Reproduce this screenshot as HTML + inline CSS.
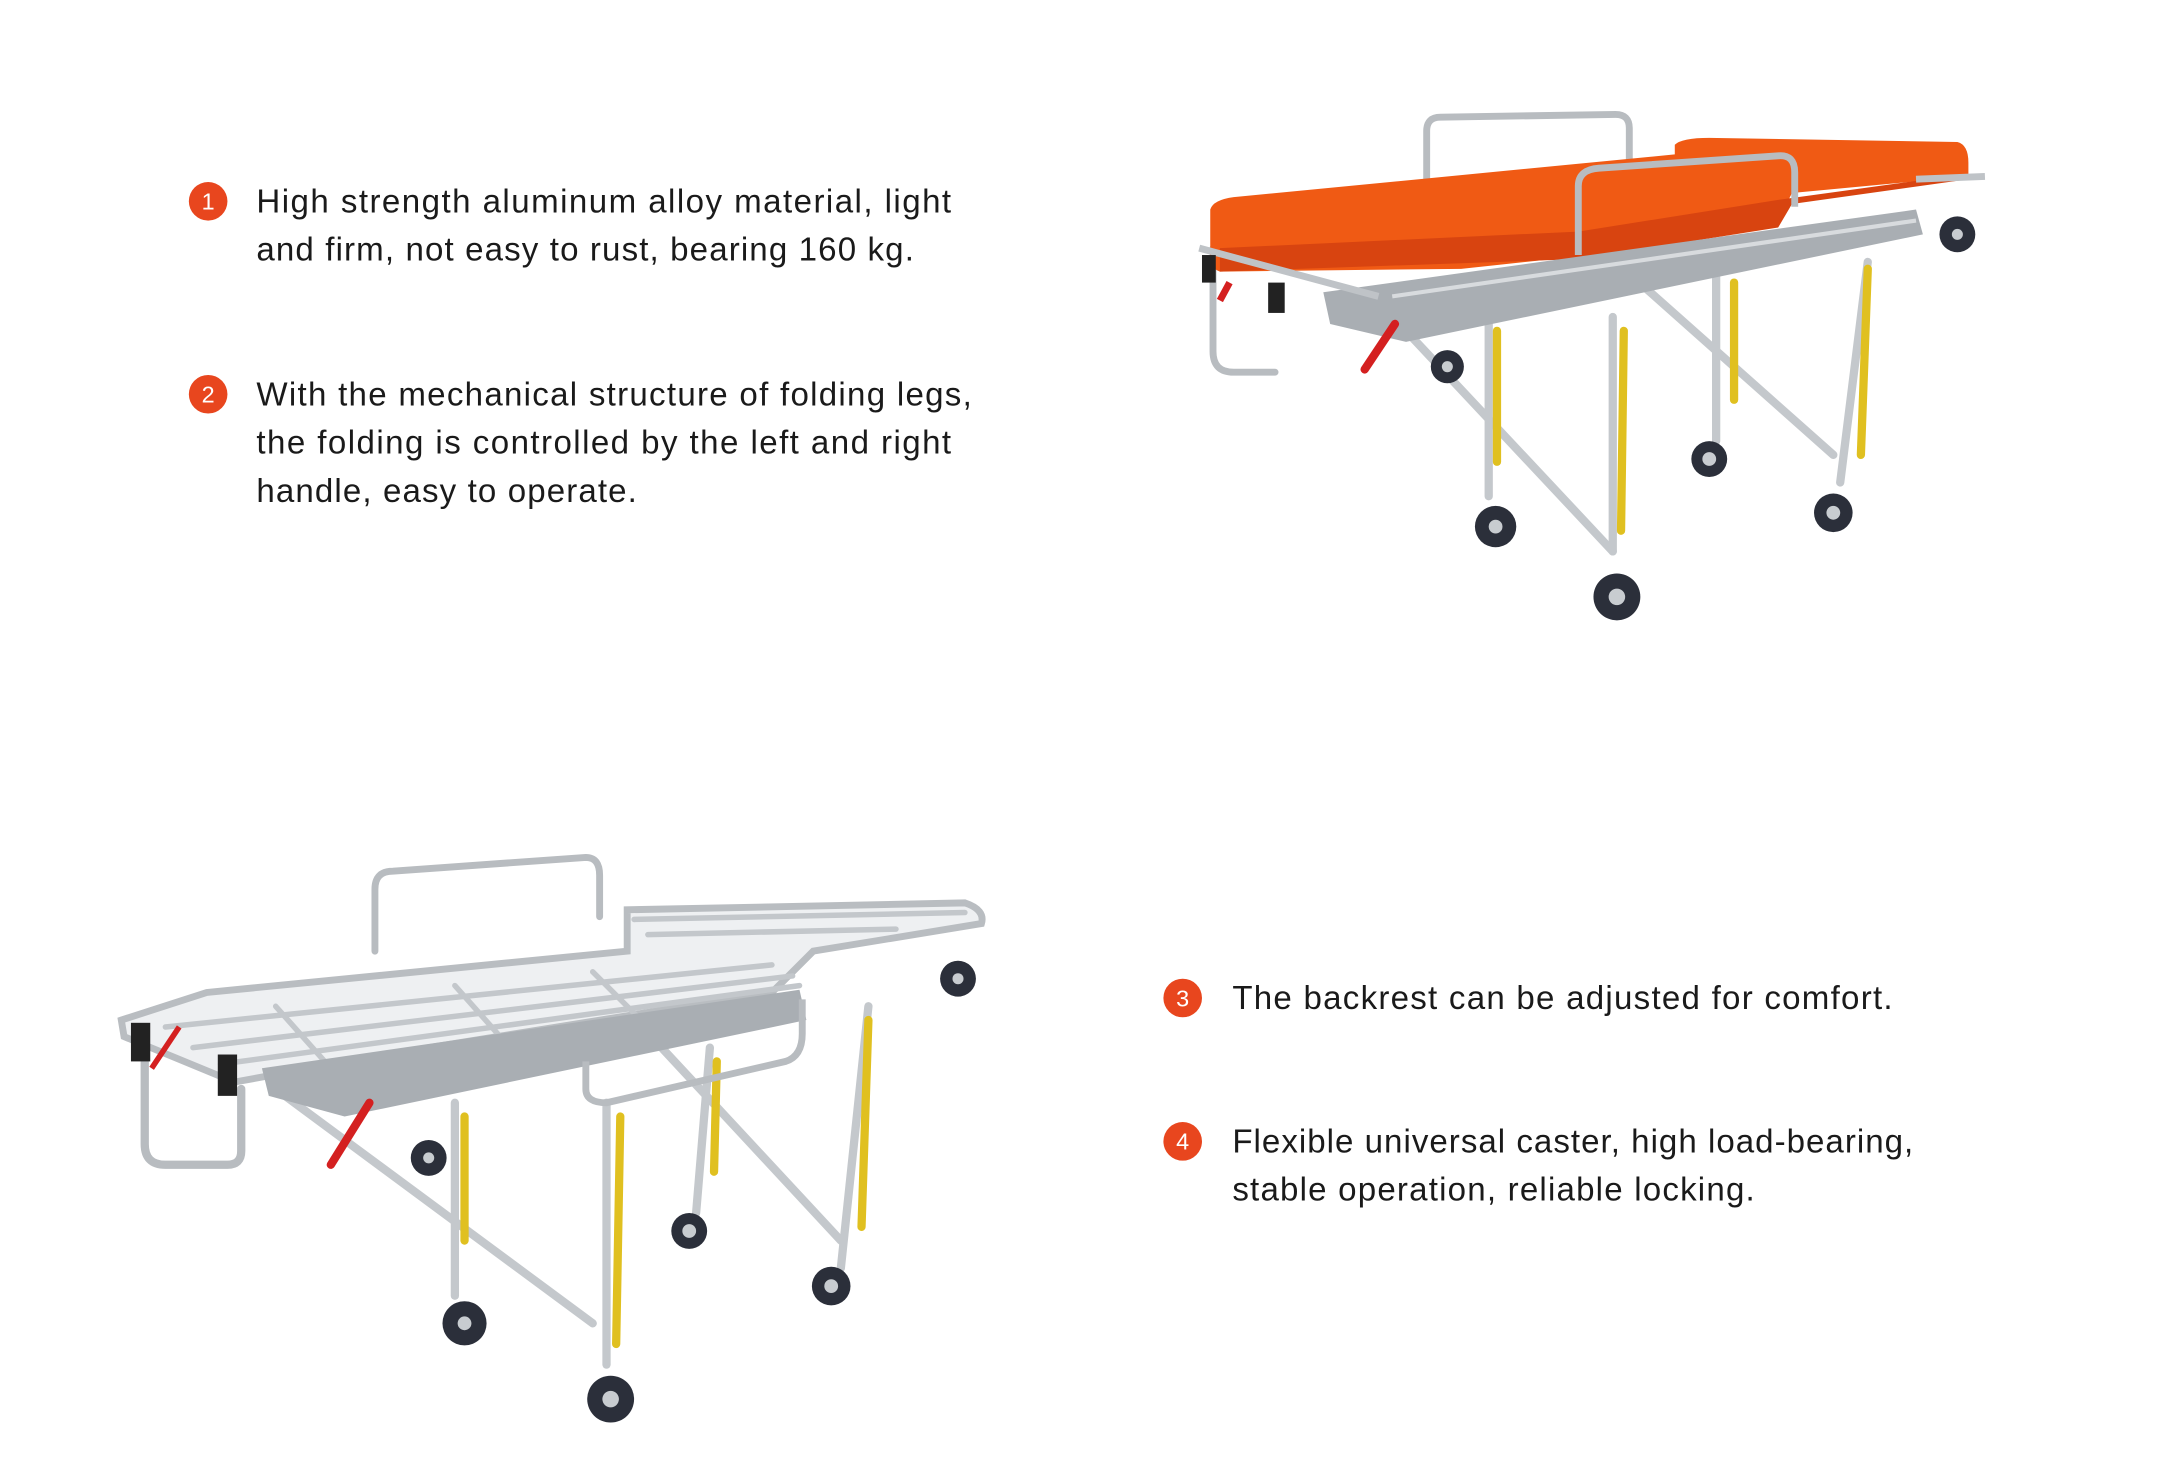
<!DOCTYPE html>
<html><head><meta charset="utf-8"><style>
html,body{margin:0;padding:0;background:#fff;}
svg{display:block;}
text{font-family:"Liberation Sans",sans-serif;fill:#1a1a1a;}
.n{fill:#fff;font-size:17px;text-anchor:middle;}
.t{font-size:24px;}
</style></head><body>
<svg width="2160" height="1466" viewBox="0 0 1567 1063.5" xmlns="http://www.w3.org/2000/svg">
<rect width="1567" height="1064" fill="#fff"/>
<circle cx="151" cy="146" r="14" fill="#e8461e"/><text class="n" x="151" y="152">1</text>
<text class="t" x="186" y="154" textLength="504" lengthAdjust="spacing">High strength aluminum alloy material, light</text>
<text class="t" x="186" y="189" textLength="477" lengthAdjust="spacing">and firm, not easy to rust, bearing 160 kg.</text>
<circle cx="151" cy="286" r="14" fill="#e8461e"/><text class="n" x="151" y="292">2</text>
<text class="t" x="186" y="294" textLength="519" lengthAdjust="spacing">With the mechanical structure of folding legs,</text>
<text class="t" x="186" y="329" textLength="504" lengthAdjust="spacing">the folding is controlled by the left and right</text>
<text class="t" x="186" y="364" textLength="276" lengthAdjust="spacing">handle, easy to operate.</text>
<circle cx="858" cy="724" r="14" fill="#e8461e"/><text class="n" x="858" y="730">3</text>
<text class="t" x="894" y="732" textLength="479" lengthAdjust="spacing">The backrest can be adjusted for comfort.</text>
<circle cx="858" cy="828" r="14" fill="#e8461e"/><text class="n" x="858" y="834">4</text>
<text class="t" x="894" y="836" textLength="494" lengthAdjust="spacing">Flexible universal caster, high load-bearing,</text>
<text class="t" x="894" y="871" textLength="379" lengthAdjust="spacing">stable operation, reliable locking.</text>

<!-- top stretcher -->
<g stroke-linecap="round" fill="none">
<path d="M1035 135 L1035 95 Q1035 85 1045 85 L1172 83 Q1182 83 1182 93 L1182 120" stroke="#b8bcc0" stroke-width="5"/>
<g stroke="#c4c8cc" stroke-width="6">
<line x1="1020" y1="240" x2="1170" y2="400"/>
<line x1="1170" y1="230" x2="1170" y2="400"/>
<line x1="1080" y1="220" x2="1080" y2="360"/>
<line x1="1195" y1="210" x2="1330" y2="330"/>
<line x1="1355" y1="190" x2="1335" y2="350"/>
<line x1="1245" y1="200" x2="1245" y2="320"/>
</g>
<g stroke="#e0c020" stroke-width="6">
<line x1="1178" y1="240" x2="1176" y2="385"/><line x1="1086" y1="240" x2="1086" y2="335"/>
<line x1="1355" y1="195" x2="1350" y2="330"/><line x1="1258" y1="205" x2="1258" y2="290"/>
</g>
<path d="M880 180 L880 255 Q880 270 895 270 L925 270" stroke="#b8bcc0" stroke-width="5"/>
</g>
<path d="M878 152 Q880 145 895 143 L1215 112 L1215 105 Q1220 100 1240 100 L1420 103 Q1428 105 1428 118 L1428 128 L1300 140 L1290 160 L1145 186 L1060 195 L885 197 Q878 195 878 185 Z" fill="#f05a14"/>
<path d="M885 180 L1145 168 L1290 145 L1428 126 L1428 130 L1300 148 L1290 165 L1145 188 L885 197 Z" fill="#d84410"/>
<path d="M1145 185 L1145 135 Q1145 123 1160 122 L1290 113 Q1302 112 1302 125 L1302 150" stroke="#b8bcc0" stroke-width="5" fill="none"/>
<path d="M960 212 L1390 152 L1395 170 L1020 248 L965 235 Z" fill="#a9aeb3"/>
<path d="M1010 215 L1390 160" stroke="#d8dbde" stroke-width="3"/>
<path d="M870 180 L1000 215 M1390 130 L1440 128" stroke="#bfc3c7" stroke-width="5"/>
<path d="M990 268 L1012 235" stroke="#d42020" stroke-width="6" stroke-linecap="round"/>
<path d="M885 218 L892 205" stroke="#d42020" stroke-width="5"/>
<rect x="920" y="205" width="12" height="22" fill="#222"/><rect x="872" y="185" width="10" height="20" fill="#222"/>
<g fill="#2b2f3a"><circle cx="1173" cy="433" r="17"/><circle cx="1085" cy="382" r="15"/><circle cx="1330" cy="372" r="14"/><circle cx="1240" cy="333" r="13"/><circle cx="1050" cy="266" r="12"/><circle cx="1420" cy="170" r="13"/></g>
<g fill="#c8ccd0"><circle cx="1173" cy="433" r="6"/><circle cx="1085" cy="382" r="5"/><circle cx="1330" cy="372" r="5"/><circle cx="1240" cy="333" r="5"/><circle cx="1050" cy="266" r="4"/><circle cx="1420" cy="170" r="4"/></g>

<!-- bottom stretcher -->
<g stroke-linecap="round" fill="none">
<g stroke="#c4c8cc" stroke-width="6">
<line x1="200" y1="790" x2="430" y2="960"/><line x1="440" y1="800" x2="440" y2="990"/>
<line x1="330" y1="800" x2="330" y2="940"/><line x1="480" y1="760" x2="610" y2="900"/>
<line x1="630" y1="730" x2="610" y2="920"/><line x1="515" y1="760" x2="505" y2="880"/>
</g>
<g stroke="#e0c020" stroke-width="6"><line x1="450" y1="810" x2="447" y2="975"/><line x1="337" y1="810" x2="337" y2="900"/><line x1="630" y1="740" x2="625" y2="890"/><line x1="520" y1="770" x2="518" y2="850"/></g>
<path d="M272 690 L272 645 Q272 632 285 632 L425 622 Q435 622 435 635 L435 665" stroke="#b8bcc0" stroke-width="5"/>
<path d="M105 760 L105 830 Q105 845 120 845 L165 845 Q175 845 175 835 L175 790" stroke="#b8bcc0" stroke-width="6"/>
<path d="M88 740 L150 720 L455 690 L455 660 L700 655 Q715 660 712 670 L590 690 L560 720 L280 765 L170 785 L90 752 Z" stroke="#b9bdc1" stroke-width="5" fill="#eef0f2"/>
<g stroke="#c3c7cb" stroke-width="4">
<line x1="120" y1="745" x2="560" y2="700"/><line x1="140" y1="760" x2="575" y2="708"/><line x1="160" y1="772" x2="580" y2="715"/>
<line x1="460" y1="667" x2="700" y2="662"/><line x1="470" y1="678" x2="650" y2="674"/>
<line x1="200" y1="730" x2="240" y2="775"/><line x1="330" y1="715" x2="370" y2="760"/><line x1="430" y1="705" x2="470" y2="745"/>
</g>
</g>
<path d="M190 775 L580 718 L585 740 L250 810 L195 795 Z" fill="#a9aeb3"/>
<path d="M425 770 L425 790 Q425 800 440 800 L570 770 Q582 766 582 750 L582 725" stroke="#b8bcc0" stroke-width="5" fill="none"/>
<path d="M240 845 L268 800" stroke="#d42020" stroke-width="6" stroke-linecap="round"/>
<path d="M110 775 L130 745" stroke="#d42020" stroke-width="4"/>
<rect x="95" y="742" width="14" height="28" fill="#222"/><rect x="158" y="765" width="14" height="30" fill="#222"/>
<g fill="#2b2f3a"><circle cx="443" cy="1015" r="17"/><circle cx="337" cy="960" r="16"/><circle cx="603" cy="933" r="14"/><circle cx="500" cy="893" r="13"/><circle cx="311" cy="840" r="13"/><circle cx="695" cy="710" r="13"/></g>
<g fill="#c8ccd0"><circle cx="443" cy="1015" r="6"/><circle cx="337" cy="960" r="5"/><circle cx="603" cy="933" r="5"/><circle cx="500" cy="893" r="5"/><circle cx="311" cy="840" r="4"/><circle cx="695" cy="710" r="4"/></g>
</svg>
</body></html>
